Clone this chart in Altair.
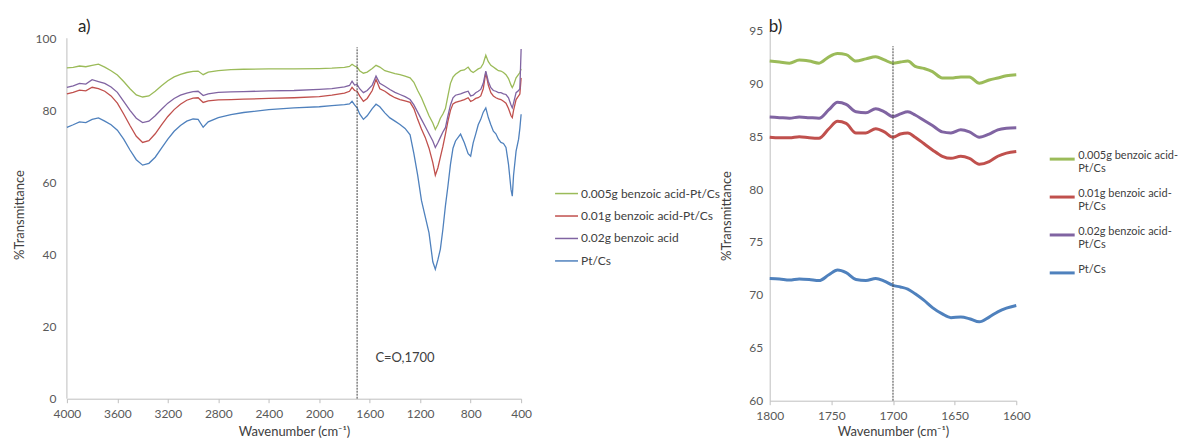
import altair as alt
import pandas as pd

# ---------------- panel a) data ----------------
wn_a = [4000, 3950, 3900, 3850, 3800, 3750, 3700, 3650, 3600, 3550, 3500, 3450, 3400, 3350,
        3300, 3250, 3200, 3150, 3100, 3050, 3000, 2960, 2920, 2880, 2800, 2700, 2600, 2400,
        2200, 2000, 1900, 1800, 1760, 1740, 1720, 1700, 1680, 1650, 1620, 1580, 1550, 1520,
        1480, 1440, 1400, 1360, 1320, 1280, 1250, 1220, 1190, 1160, 1130, 1100, 1080, 1060,
        1040, 1020, 1000, 980, 960, 940, 920, 880, 850, 820, 800, 780, 760, 740, 720, 700,
        680, 660, 640, 620, 600, 580, 560, 540, 520, 500, 480, 470, 460, 440, 420, 410, 400]

green_a = [91.8, 91.9, 92.3, 92.1, 92.5, 92.8, 92.0, 91.0, 89.8, 88.0, 86.0, 84.3, 83.7, 84.0,
           85.3, 86.8, 88.2, 89.3, 90.0, 90.5, 90.8, 90.9, 89.9, 90.6, 91.0, 91.3, 91.4, 91.5,
           91.5, 91.6, 91.7, 91.9, 92.2, 92.8, 92.3, 92.0, 91.0, 90.3, 90.6, 91.6, 92.5, 92.0,
           91.0, 90.6, 90.2, 89.9, 89.5, 89.0, 87.8, 85.5, 83.5, 81.0, 78.5, 76.5, 74.7, 76.0,
           77.8, 79.0, 80.5, 84.0, 87.5, 89.2, 90.0, 91.0, 91.2, 92.0, 91.0, 90.5, 91.0, 91.5,
           91.8, 93.0, 95.3, 93.5, 92.5, 92.0, 91.5, 91.0, 90.9, 90.5, 89.9, 88.8, 87.0, 86.3,
           87.0, 89.0, 90.0, 90.5, 91.5]

red_a = [84.6, 85.0, 85.6, 85.4, 86.4, 86.0, 85.3, 84.0, 82.0, 79.0, 75.8, 72.8, 71.1, 71.6,
         73.5, 76.0, 78.3, 80.2, 81.7, 82.8, 83.4, 83.5, 82.2, 82.6, 82.9, 83.0, 83.1, 83.3,
         83.5, 83.8, 84.2, 84.8, 85.3, 86.4, 85.5, 85.3, 84.0, 82.5, 83.3, 85.5, 88.6, 86.0,
         85.3, 84.3, 83.5, 83.0, 82.6, 82.2, 80.5, 77.5, 74.8, 72.5, 69.5, 65.5, 62.0, 64.0,
         67.0, 70.0, 73.4, 77.0, 80.0, 81.8, 82.2, 82.6, 83.0, 83.5, 82.5, 82.8, 83.3, 83.5,
         84.0, 86.0, 90.5, 87.0, 84.9, 84.0, 83.5, 83.2, 83.0, 82.5, 82.0, 80.5, 78.5, 78.0,
         80.0, 83.0, 84.0, 84.5, 89.0]

purple_a = [86.4, 86.8, 87.5, 87.3, 88.5, 88.0, 87.5, 86.5, 85.0, 82.5, 80.0, 77.8, 76.6, 77.0,
            78.5, 80.3, 82.0, 83.3, 84.2, 84.8, 85.2, 85.3, 84.1, 84.6, 85.0, 85.1, 85.2, 85.4,
            85.5, 85.8, 86.0, 86.5, 86.9, 88.1, 87.0, 87.2, 86.0, 84.9, 85.5, 87.0, 89.5, 87.5,
            86.7, 85.8, 85.0, 84.4, 83.8, 83.0, 81.5, 79.5, 77.5, 75.5, 73.5, 71.5, 69.7, 71.0,
            72.5, 74.0, 75.2, 78.5, 81.5, 83.5, 84.2, 84.6, 85.0, 85.3, 84.0, 84.2, 84.9, 85.3,
            85.8, 87.5, 90.9, 88.0, 86.3, 85.5, 85.3, 84.9, 84.9, 84.6, 84.4, 83.5, 81.5, 80.7,
            82.0, 84.9, 85.5, 86.0, 97.0]

blue_a = [75.3, 76.0, 76.8, 76.6, 77.5, 77.9, 77.0, 76.0, 74.5, 72.0, 69.0, 66.3, 64.8, 65.3,
          67.0, 69.5, 72.0, 74.2, 75.8, 77.0, 77.6, 77.5, 75.3, 76.8, 78.0, 78.8, 79.4, 80.2,
          80.7, 81.0, 81.3, 81.6, 81.8, 82.5, 81.5, 80.7, 79.0, 77.5, 78.5, 80.5, 81.7, 81.0,
          79.3, 77.9, 77.0, 76.1, 75.0, 73.2, 68.0, 62.0, 55.0, 50.5, 46.0, 38.0, 35.9, 38.5,
          41.5, 47.0, 53.5, 59.0, 65.0, 69.5, 71.5, 73.4, 71.0, 68.0, 67.3, 71.0, 73.4, 76.0,
          77.5, 79.5, 80.7, 78.0, 76.0, 74.2, 73.5, 72.0, 71.1, 70.8, 69.7, 65.0, 58.0, 56.2,
          62.0, 68.7, 72.0, 75.0, 78.9]

# ---------------- panel b) data ----------------
wn_b = [1800, 1792, 1784, 1776, 1768, 1760, 1752, 1745, 1738, 1730, 1722, 1714, 1707, 1700,
        1694, 1688, 1682, 1675, 1668, 1660, 1653, 1645, 1638, 1630, 1622, 1615, 1608, 1600]

green_b = [92.1, 92.0, 91.9, 92.2, 92.1, 91.9, 92.5, 92.8, 92.7, 92.1, 92.3, 92.5, 92.2, 91.9,
           92.0, 92.1, 91.6, 91.4, 91.1, 90.5, 90.5, 90.6, 90.6, 90.0, 90.3, 90.5, 90.7, 90.8]

red_b = [84.9, 84.85, 84.85, 84.95, 84.85, 84.8, 85.7, 86.4, 86.2, 85.3, 85.3, 85.7, 85.4, 84.9,
         85.2, 85.3, 84.9, 84.3, 83.7, 83.1, 82.9, 83.1, 82.9, 82.35, 82.6, 83.1, 83.4, 83.55]

purple_b = [86.8, 86.75, 86.7, 86.8, 86.75, 86.7, 87.5, 88.2, 88.0, 87.3, 87.2, 87.6, 87.3, 86.85,
            87.1, 87.3, 87.0, 86.5, 86.0, 85.4, 85.3, 85.6, 85.4, 84.9, 85.2, 85.6, 85.75, 85.8]

blue_b = [71.55, 71.5, 71.4, 71.5, 71.45, 71.35, 71.9, 72.35, 72.1, 71.45, 71.35, 71.55, 71.3, 70.9,
          70.75, 70.55, 70.1, 69.5, 68.8, 68.2, 67.85, 67.9, 67.75, 67.45, 67.9, 68.4, 68.75, 69.0]

names_a = ["0.005g benzoic acid-Pt/Cs", "0.01g benzoic acid-Pt/Cs", "0.02g benzoic acid", "Pt/Cs"]
names_b = ["0.005g benzoic acid-Pt/Cs", "0.01g benzoic acid-Pt/Cs", "0.02g benzoic acid-Pt/Cs", "Pt/Cs"]
colors = ["#9BBB59", "#C0504D", "#8064A2", "#4F81BD"]

ticks_a = [4000, 3600, 3200, 2800, 2400, 2000, 1600, 1200, 800, 400]
yticks_a = [0, 10, 20, 30, 40, 50, 60, 70, 80, 90, 100]
ticks_b = [1800, 1750, 1700, 1650, 1600]
yticks_b = [60, 65, 70, 75, 80, 85, 90, 95]

x_title = "Wavenumber (cm\u207b\u00b9)"
y_title = "%Transmittance"


def long_df(wns, names, series):
    rows = []
    for name, vals in zip(names, series):
        for w, v in zip(wns, vals):
            rows.append({"wn": w, "T": v, "series": name})
    return pd.DataFrame(rows)


df_a = long_df(wn_a, names_a, [green_a, red_a, purple_a, blue_a])
df_b = long_df(wn_b, names_b, [green_b, red_b, purple_b, blue_b])

AX = dict(domainColor="#BFBFBF", tickColor="#BFBFBF", labelColor="#595959", labelFontSize=12,
          titleColor="#404040", titleFontSize=13, titleFontWeight="normal", grid=False)

# ---------------- panel a) ----------------
xa = alt.X("wn:Q", scale=alt.Scale(domain=[400, 4000], reverse=True, nice=False, zero=False),
           axis=alt.Axis(values=ticks_a, format="d", title=x_title, tickSize=4, labelPadding=6,
                         titlePadding=6, labelFlush=False, **AX))
# y scale reaches a little above 100 so that the plot tops of both panels line up
ya = alt.Y("T:Q", scale=alt.Scale(domain=[0, 102.2], nice=False),
           axis=alt.Axis(values=yticks_a, format="d", title=y_title, ticks=False, tickSize=0,
                         domain=False, labelPadding=11, titlePadding=9, **AX))

lines_a = alt.Chart(df_a).mark_line(strokeWidth=1.3).encode(
    x=xa, y=ya,
    color=alt.Color("series:N", scale=alt.Scale(domain=names_a, range=colors),
                    legend=alt.Legend(orient="none", legendX=488, legendY=151, title=None,
                                      symbolType="stroke", symbolSize=529, symbolStrokeWidth=1.5,
                                      labelFontSize=12, labelColor="#404040", labelOffset=2,
                                      rowPadding=3.5, padding=0, labelLimit=400)),
    order=alt.Order("wn:Q"),
)

axis_a = alt.Chart(pd.DataFrame({"wn": [4000], "lo": [0], "hi": [100]})).mark_rule(
    color="#BFBFBF", strokeWidth=1).encode(x="wn:Q", y="lo:Q", y2="hi:Q")

rule_a = alt.Chart(pd.DataFrame({"wn": [1700], "lo": [0], "hi": [97.5]})).mark_rule(
    color="#404040", strokeDash=[2, 1], strokeWidth=1).encode(x="wn:Q", y="lo:Q", y2="hi:Q")

note_a = alt.Chart(pd.DataFrame({"wn": [1555], "T": [11.4], "t": ["C=O,1700"]})).mark_text(
    align="left", baseline="middle", fontSize=13, color="#404040").encode(x="wn:Q", y="T:Q", text="t:N")

lab_a = alt.Chart(pd.DataFrame({"t": ["a)"]})).mark_text(
    align="left", baseline="top", fontSize=17, color="#262626").encode(
    x=alt.value(11), y=alt.value(-11.6), text="t:N")

left = alt.layer(axis_a, lines_a, rule_a, note_a, lab_a).properties(width=455, height=369)

# ---------------- panel b) ----------------
xb = alt.X("wn:Q", scale=alt.Scale(domain=[1600, 1800], reverse=True, nice=False, zero=False),
           axis=alt.Axis(values=ticks_b, format="d", title=x_title, tickSize=4, labelPadding=6,
                         titlePadding=4, labelFlush=False, **AX))
yb = alt.Y("T:Q", scale=alt.Scale(domain=[60, 95], nice=False, zero=False),
           axis=alt.Axis(values=yticks_b, format="d", title=y_title, ticks=False, tickSize=0,
                         labelPadding=7, titlePadding=15, **AX))

split_expr = ("indexof(datum.label, 'acid-') >= 0 ? "
              "[substring(datum.label, 0, indexof(datum.label, 'acid-') + 5), "
              "substring(datum.label, indexof(datum.label, 'acid-') + 5)] : [datum.label, ' ']")

lines_b = alt.Chart(df_b).mark_line(strokeWidth=3, interpolate="monotone").encode(
    x=xb, y=yb,
    color=alt.Color("series:N", scale=alt.Scale(domain=names_b, range=colors),
                    legend=alt.Legend(orient="none", legendX=279, legendY=115, title=None,
                                      symbolType="stroke", symbolSize=625, symbolStrokeWidth=3,
                                      labelFontSize=11, labelColor="#404040", labelOffset=2,
                                      labelBaseline="alphabetic", labelExpr=split_expr,
                                      rowPadding=9, padding=0, labelLimit=400)),
    order=alt.Order("wn:Q"),
)

rule_b = alt.Chart(pd.DataFrame({"wn": [1700], "lo": [60], "hi": [93.5]})).mark_rule(
    color="#404040", strokeDash=[2, 1], strokeWidth=1).encode(x="wn:Q", y="lo:Q", y2="hi:Q")

lab_b = alt.Chart(pd.DataFrame({"t": ["b)"]})).mark_text(
    align="left", baseline="top", fontSize=17, color="#262626").encode(
    x=alt.value(-1), y=alt.value(-11.6), text="t:N")

right = alt.layer(lines_b, rule_b, lab_b).properties(width=247, height=371)

chart = alt.hconcat(left, right, spacing=0).resolve_scale(color="independent").resolve_legend(
    color="independent").properties(
    padding={"left": 5, "top": 9, "right": 0, "bottom": 0}
).configure(font="Lato").configure_view(stroke=None)

chart.save("out.html", embed_options={"renderer": "svg", "actions": False})
